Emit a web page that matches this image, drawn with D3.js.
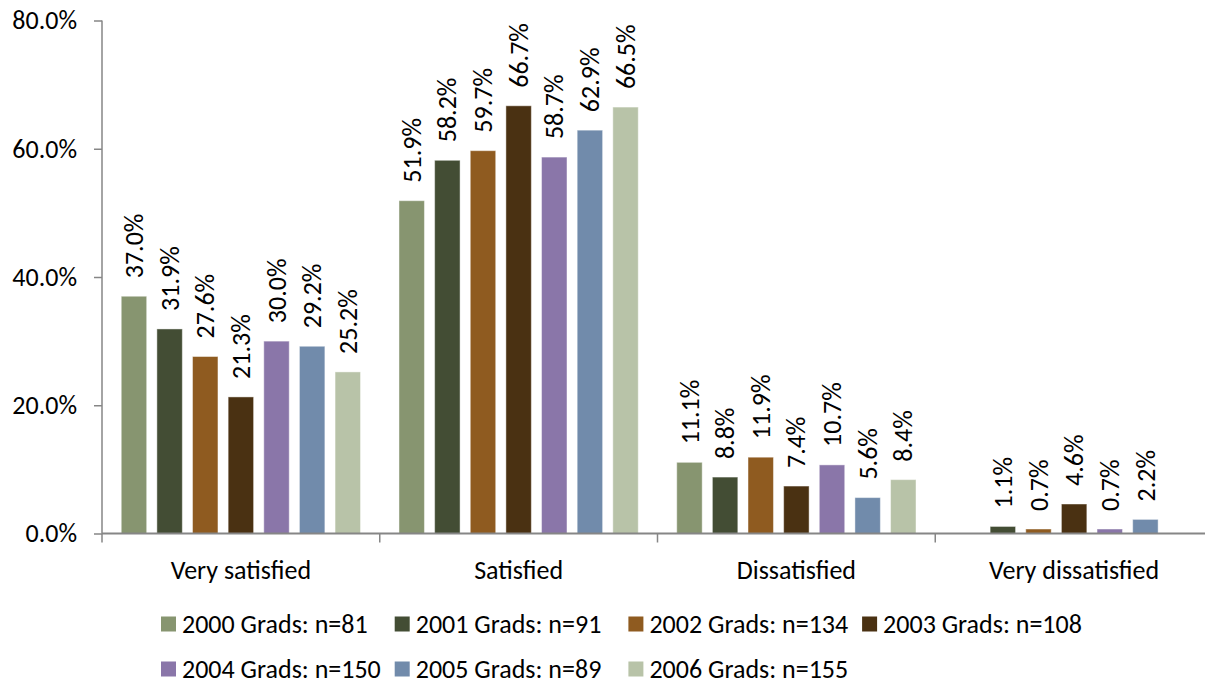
<!DOCTYPE html>
<html>
<head>
<meta charset="utf-8">
<script src="https://cdn.jsdelivr.net/npm/d3@7"></script>
<style>
  html, body { margin: 0; padding: 0; background: #fff; }
  svg { display: block; font-family: Carlito, Lato, "Open Sans", sans-serif; }
</style>
</head>
<body>
<svg id="chart" width="1205" height="686"></svg>
<script>
// Satisfaction ratings by graduating class
const categories = ["Very satisfied", "Satisfied", "Dissatisfied", "Very dissatisfied"];
const seriesNames = [
  "2000 Grads: n=81", "2001 Grads: n=91", "2002 Grads: n=134", "2003 Grads: n=108",
  "2004 Grads: n=150", "2005 Grads: n=89", "2006 Grads: n=155"
];
const seriesColors = ["#879570", "#434D34", "#8F5B20", "#4A3112", "#8A76A9", "#718BAB", "#B8C3A8"];
// percentages per series, in category order (null = no response recorded)
const grads2000 = [37.0, 51.9, 11.1, null];
const grads2001 = [31.9, 58.2, 8.8, 1.1];
const grads2002 = [27.6, 59.7, 11.9, 0.7];
const grads2003 = [21.3, 66.7, 7.4, 4.6];
const grads2004 = [30.0, 58.7, 10.7, 0.7];
const grads2005 = [29.2, 62.9, 5.6, 2.2];
const grads2006 = [25.2, 66.5, 8.4, null];
const seriesValues = [grads2000, grads2001, grads2002, grads2003, grads2004, grads2005, grads2006];
const yTicks = [0, 20, 40, 60, 80];

const svg = d3.select("#chart");
const plot = { left: 102, right: 1213, top: 20.5, bottom: 533.5 };
const fontSize = 26;

const x = d3.scaleBand().domain(categories).range([plot.left, plot.right]).padding(0);
const xInner = d3.scaleBand().domain(d3.range(seriesNames.length))
  .range([0, x.bandwidth()]).paddingInner(0.286).paddingOuter(0.54);
const y = d3.scaleLinear().domain([0, 80]).range([plot.bottom, plot.top]);

const axisColor = "#868686";

// bars
const rows = [];
seriesValues.forEach((vals, s) => {
  vals.forEach((v, c) => { if (v !== null) rows.push({ s, c, v }); });
});

svg.append("g").selectAll("rect").data(rows).join("rect")
  .attr("x", d => x(categories[d.c]) + xInner(d.s))
  .attr("y", d => y(d.v))
  .attr("width", xInner.bandwidth())
  .attr("height", d => y(0) - y(d.v))
  .attr("fill", d => seriesColors[d.s])
  .attr("stroke", "#ffffff")
  .attr("stroke-opacity", 0.45)
  .attr("stroke-width", 1);

// value labels, rotated
svg.append("g").selectAll("text").data(rows).join("text")
  .attr("transform", d => {
    const cx = x(categories[d.c]) + xInner(d.s) + xInner.bandwidth() / 2;
    const cy = y(d.v) - 18;
    return `translate(${cx},${cy}) rotate(-90)`;
  })
  .attr("dy", "0.35em")
  .attr("text-anchor", "start")
  .attr("font-size", fontSize)
  .attr("fill", "#000")
  .text(d => d.v.toFixed(1) + "%");

// y axis
const yAxis = d3.axisLeft(y).tickValues(yTicks).tickSize(8).tickPadding(17)
  .tickFormat(d => d.toFixed(1) + "%");
const gy = svg.append("g").attr("transform", `translate(${plot.left},0)`).call(yAxis);
gy.select(".domain").attr("stroke", axisColor).attr("stroke-width", 1.5)
  .attr("d", `M0,${plot.top}V${plot.bottom}`);
gy.selectAll(".tick line").attr("stroke", axisColor).attr("stroke-width", 1.5);
gy.selectAll(".tick text").attr("font-size", fontSize).attr("fill", "#000")
  .attr("font-family", "Carlito, Lato, 'Open Sans', sans-serif");

// x axis with category separators
const gx = svg.append("g").attr("transform", `translate(0,${plot.bottom})`);
gx.append("line").attr("x1", plot.left).attr("x2", plot.right).attr("y1", 0).attr("y2", 0)
  .attr("stroke", axisColor).attr("stroke-width", 2);
const bounds = categories.map(c => x(c)).concat([plot.right]);
gx.selectAll("line.sep").data(bounds).join("line").attr("class", "sep")
  .attr("x1", d => d).attr("x2", d => d).attr("y1", 0).attr("y2", 9)
  .attr("stroke", axisColor).attr("stroke-width", 1.5);
gx.selectAll("text").data(categories).join("text")
  .attr("x", d => x(d) + x.bandwidth() / 2)
  .attr("y", 45)
  .attr("text-anchor", "middle")
  .attr("font-size", fontSize)
  .attr("fill", "#000")
  .text(d => d);

// legend, four per row
const legend = svg.append("g");
const legendItems = legend.selectAll("g").data(seriesNames).join("g")
  .attr("transform", (d, i) => `translate(${161 + (i % 4) * 233.7},${624 + Math.floor(i / 4) * 45})`);
legendItems.append("rect")
  .attr("x", 0).attr("y", -7.5).attr("width", 15).attr("height", 15)
  .attr("fill", (d, i) => seriesColors[i]);
legendItems.append("text")
  .attr("x", 21).attr("dy", "0.35em")
  .attr("font-size", fontSize)
  .attr("fill", "#000")
  .text(d => d);
</script>
</body>
</html>
